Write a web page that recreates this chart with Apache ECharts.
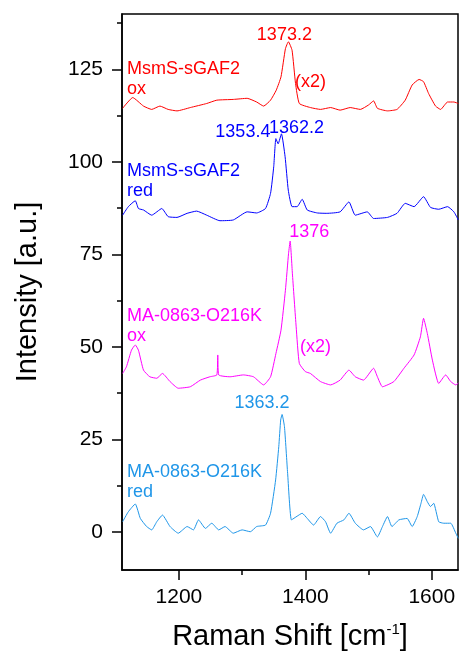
<!DOCTYPE html>
<html>
<head>
<meta charset="utf-8">
<script src="https://cdn.jsdelivr.net/npm/echarts@6/dist/echarts.min.js"></script>
<style>
  html, body { margin: 0; padding: 0; background: #fff; }
  #chart { width: 461px; height: 658px; }
</style>
</head>
<body>
<div id="chart"></div>
<script>
// Raman shift (cm^-1) and intensity (a.u., offset per trace)
const sgafOxShift = [1111,1127,1144,1157,1170,1183,1197,1218,1244,1260,1286,1308,1323,1334,1345,1354,1361.5,1368.5,1373.2,1379,1384.5,1390.5,1408,1424,1440,1455,1471,1487,1500,1508,1514,1530,1545,1558,1569,1580,1587,1595,1606,1614,1625,1635,1642];
const sgafOxInt   = [114.5,117.4,115.1,114.2,115.1,114.2,113.8,114.7,115.8,116.7,116.9,117.2,116.2,115.1,116.7,119.4,123.0,130.6,132.5,130.2,121.2,115.8,114.7,114.2,114.7,114.0,114.7,114.2,115.4,116.5,114.5,113.8,114.2,116.7,120.8,122.3,121.7,118.5,115.1,114.2,116.2,116.2,115.8];

const sgafRedShift = [1111,1120,1131,1136,1144,1157,1173,1183,1197,1213,1228,1244,1265,1286,1308,1323,1337,1345,1350,1353.4,1357,1362.2,1368,1373,1379,1387,1395,1403,1419,1434,1455,1469,1479,1498,1508,1530,1545,1558,1572,1587,1598,1611,1625,1635,1642];
const sgafRedInt   = [85.6,87.9,89.5,87.4,87.0,85.6,87.4,85.2,85.0,86.1,86.7,85.6,84.1,84.3,86.5,86.2,87.4,91.5,98.7,106.3,104.9,107.6,101.4,92.4,87.9,87.9,89.9,87.0,86.2,86.1,86.5,89.2,85.6,86.5,84.7,85.0,86.1,88.8,87.9,90.6,87.7,87.2,87.9,86.5,84.3];

const maOxShift = [1111,1117,1125,1131,1136,1144,1154,1165,1174,1186,1199,1218,1234,1249,1260,1261.5,1263,1281,1302,1318,1334,1345,1353.5,1361.5,1368.5,1373.5,1376,1379.5,1385.5,1390.5,1400,1408,1424,1440,1455,1469,1479,1492,1508,1514,1522,1540,1556,1572,1582,1587,1593,1601,1611,1622,1630,1638,1642];
const maOxInt   = [42.8,44.6,49.1,50.5,49.1,43.7,41.9,41.5,42.8,40.6,38.8,39.2,41.0,41.9,42.4,47.8,42.4,41.9,42.4,41.9,39.7,41.9,48.2,54.5,65.3,75.3,78.6,69.9,55.4,45.5,43.3,42.8,40.6,39.7,41.0,43.7,41.9,41.0,44.2,41.9,39.2,40.6,44.2,47.8,52.7,57.7,53.6,46.4,40.1,42.4,40.6,39.7,40.2];

const maRedShift = [1111,1120,1131,1139,1149,1157,1165,1174,1186,1199,1213,1223,1231,1242,1252,1263,1273,1286,1300,1313,1323,1337,1345,1353,1358,1361,1363.2,1367,1372,1378,1387,1395,1403,1413,1424,1432,1440,1450,1461,1469,1479,1492,1503,1514,1522,1530,1537,1548,1561,1569,1577,1583,1587,1593,1598,1603,1611,1619,1630,1638,1642];
const maRedInt   = [2.7,5.4,7.5,3.6,1.4,0.5,2.7,4.5,1.4,-0.4,1.4,0.5,3.2,0.9,2.3,0.5,1.4,-0.4,0.5,0.0,1.4,1.8,5.0,14.0,23.0,30.2,31.7,28.4,15.8,3.2,4.2,5.0,3.6,1.8,4.1,2.7,-0.4,2.3,3.2,5.0,2.3,0.5,1.4,-1.4,1.4,4.1,1.4,3.2,3.6,1.4,4.1,7.7,10.1,8.1,6.8,7.7,2.7,2.3,2.3,-0.4,-1.8];

// Annotated peak positions [shift, intensity, label dx, label dy]
const sgafOxPeaks  = [[1373.2, 132.5, -4, -7]];
const sgafRedPeaks = [[1353.4, 106.3, -33, -7], [1362.2, 107.6, 15, -6]];
const maOxPeaks    = [[1376, 78.6, 19, -9]];
const maRedPeaks   = [[1363.2, 31.7, -20, -11]];

// Axis ticks
const xMajorTicks = [1200, 1400, 1600];
const xMinorTicks = [1300, 1500];
const yMajorTicks = [0, 25, 50, 75, 100, 125];
const yMinorTicks = [12.5, 37.5, 62.5, 87.5, 112.5, 137.5];

const FONT = '"Liberation Sans", Arial, Helvetica, sans-serif';
const C_RED = '#ff0000', C_BLUE = '#0000ff', C_MAG = '#ff00ff', C_SKY = '#1f96e8';

function pairs(xs, ys) { return xs.map((x, i) => [x, ys[i]]); }

function peakMarks(peaks, color) {
  return {
    symbol: 'circle',
    symbolSize: 0,
    silent: true,
    data: peaks.map(p => ({
      coord: [p[0], p[1]],
      label: {
        show: true,
        position: 'inside',
        offset: [p[2], p[3]],
        formatter: () => String(p[0]),
        color: color,
        fontSize: 18,
        fontFamily: FONT
      }
    }))
  };
}

function trace(name, xs, ys, color, peaks) {
  return {
    name: name,
    type: 'line',
    data: pairs(xs, ys),
    showSymbol: false,
    smooth: 0.15,
    lineStyle: { color: color, width: 1 },
    itemStyle: { color: color },
    markPoint: peakMarks(peaks, color),
    animation: false
  };
}

const plain = v => String(v);

const chart = echarts.init(document.getElementById('chart'), null, { renderer: 'canvas' });

chart.setOption({
  animation: false,
  backgroundColor: '#fff',
  grid: {
    left: 122, right: 3, top: 14, bottom: 88,
    show: true, borderColor: '#000', borderWidth: 1.5
  },
  xAxis: [
    {
      type: 'value', min: 1110, max: 1641.5, position: 'bottom',
      axisLine: { show: true, onZero: false, lineStyle: { color: '#000', width: 1.5 } },
      axisTick: { show: true, customValues: xMajorTicks, length: 10, lineStyle: { color: '#000', width: 1.5 } },
      axisLabel: { customValues: xMajorTicks, formatter: plain, color: '#000', fontSize: 21, fontFamily: FONT, margin: 17 },
      splitLine: { show: false },
      name: 'Raman Shift [cm{sup|-1}]',
      nameLocation: 'middle',
      nameGap: 52,
      nameTextStyle: {
        color: '#000', fontSize: 29, fontFamily: FONT,
        rich: { sup: { fontSize: 15, fontFamily: FONT, color: '#000', verticalAlign: 'top', padding: [0, 0, 12, 0] } }
      }
    },
    {
      type: 'value', min: 1110, max: 1641.5, position: 'bottom',
      axisLine: { show: false, onZero: false },
      axisTick: { show: true, customValues: xMinorTicks, length: 5, lineStyle: { color: '#000', width: 1.5 } },
      axisLabel: { show: false },
      splitLine: { show: false }
    }
  ],
  yAxis: [
    {
      type: 'value', min: -10.35, max: 140, position: 'left',
      axisLine: { show: true, onZero: false, lineStyle: { color: '#000', width: 1.5 } },
      axisTick: { show: true, customValues: yMajorTicks, length: 10, lineStyle: { color: '#000', width: 1.5 } },
      axisLabel: { customValues: yMajorTicks, formatter: plain, color: '#000', fontSize: 21, fontFamily: FONT, margin: 19 },
      splitLine: { show: false },
      name: 'Intensity [a.u.]',
      nameLocation: 'middle',
      nameGap: 80,
      nameTextStyle: { color: '#000', fontSize: 29, fontFamily: FONT }
    },
    {
      type: 'value', min: -10.35, max: 140, position: 'left',
      axisLine: { show: false, onZero: false },
      axisTick: { show: true, customValues: yMinorTicks, length: 5, lineStyle: { color: '#000', width: 1.5 } },
      axisLabel: { show: false },
      splitLine: { show: false }
    }
  ],
  series: [
    trace('MsmS-sGAF2 ox', sgafOxShift, sgafOxInt, C_RED, sgafOxPeaks),
    trace('MsmS-sGAF2 red', sgafRedShift, sgafRedInt, C_BLUE, sgafRedPeaks),
    trace('MA-0863-O216K ox', maOxShift, maOxInt, C_MAG, maOxPeaks),
    trace('MA-0863-O216K red', maRedShift, maRedInt, C_SKY, maRedPeaks)
  ],
  graphic: [
    { type: 'text', x: 127, y: 59, silent: true,
      style: { text: 'MsmS-sGAF2\nox', fill: C_RED, fontSize: 18, fontFamily: FONT, lineHeight: 20, verticalAlign: 'top' } },
    { type: 'text', x: 295, y: 82.5, silent: true,
      style: { text: '(x2)', fill: C_RED, fontSize: 18, fontFamily: FONT, verticalAlign: 'middle' } },
    { type: 'text', x: 127, y: 160.7, silent: true,
      style: { text: 'MsmS-sGAF2\nred', fill: C_BLUE, fontSize: 18, fontFamily: FONT, lineHeight: 20, verticalAlign: 'top' } },
    { type: 'text', x: 127, y: 305.7, silent: true,
      style: { text: 'MA-0863-O216K\nox', fill: C_MAG, fontSize: 18, fontFamily: FONT, lineHeight: 20, verticalAlign: 'top' } },
    { type: 'text', x: 300, y: 346.7, silent: true,
      style: { text: '(x2)', fill: C_MAG, fontSize: 18, fontFamily: FONT, verticalAlign: 'middle' } },
    { type: 'text', x: 127, y: 462, silent: true,
      style: { text: 'MA-0863-O216K\nred', fill: C_SKY, fontSize: 18, fontFamily: FONT, lineHeight: 20, verticalAlign: 'top' } }
  ]
});
</script>
</body>
</html>
